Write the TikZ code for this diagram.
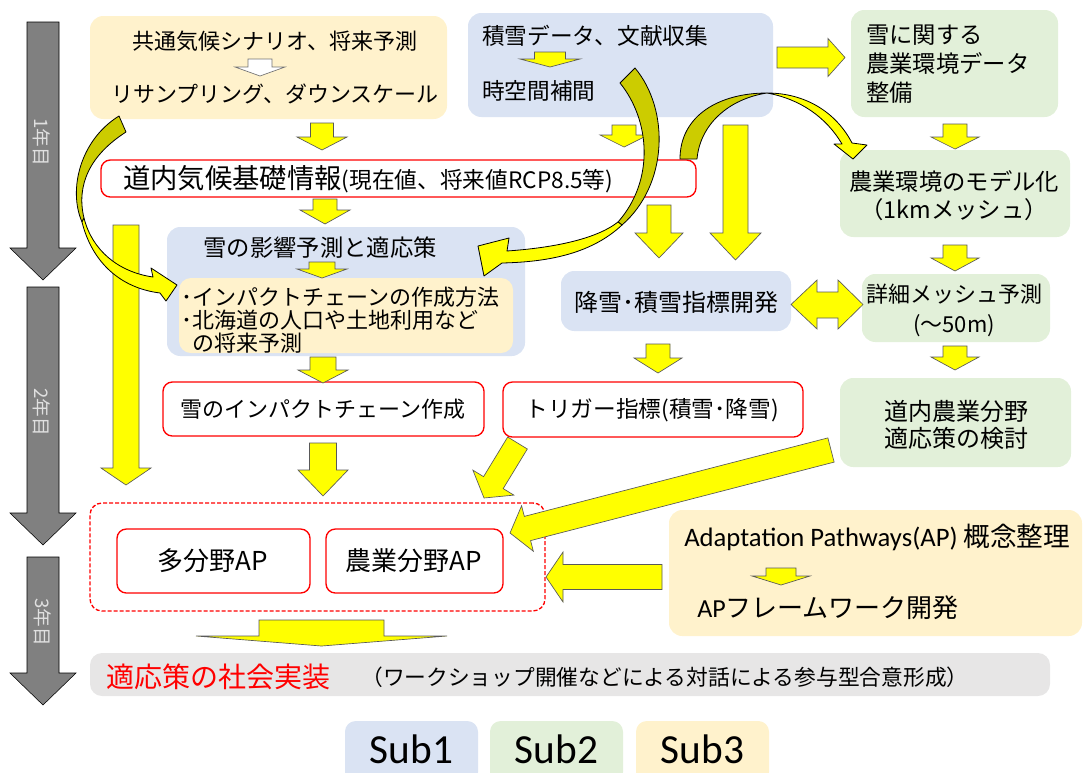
\documentclass[tikz,border=0pt]{standalone}
\usepackage{fontspec}
\setmainfont{Noto Sans CJK JP}
\newfontfamily\calfont{Carlito}
\usetikzlibrary{calc}
\definecolor{subA}{HTML}{DAE3F3}
\definecolor{subB}{HTML}{E2F0D9}
\definecolor{subC}{HTML}{FFF2CC}
\definecolor{barg}{HTML}{E7E6E6}
\definecolor{tlg}{HTML}{808080}
\definecolor{olv}{HTML}{CCCC00}
\definecolor{ylw}{HTML}{FFFF00}
\definecolor{redb}{HTML}{FF0000}
\newcommand\fz[2]{\fontsize{#1pt}{#2pt}\selectfont}
% down block arrow: [style]{cx}{ytop}{ytip}{shaft}{head}{yhead}
\newcommand\dnarrow[7][yarrow]{\draw[#1] ({#2-#5/2},#3) -- ({#2+#5/2},#3) -- ({#2+#5/2},#7) -- ({#2+#6/2},#7) -- (#2,#4) -- ({#2-#6/2},#7) -- ({#2-#5/2},#7) -- cycle;}
% general block arrow: [style]{x1}{y1}{x2}{y2}{shaft}{head}{headlen}
\newcommand\blk[8][yarrow]{%
  \pgfmathsetmacro\bkang{atan2(-((#5)-(#3)),(#4)-(#2))}%
  \pgfmathsetmacro\bklen{veclen((#4)-(#2),(#5)-(#3))}%
  \begin{scope}[shift={(#2,#3)},rotate=\bkang]
    \draw[#1] (0,{-#6/2}) -- ({\bklen-#8},{-#6/2}) -- ({\bklen-#8},{-#7/2}) -- (\bklen,0) -- ({\bklen-#8},{#7/2}) -- ({\bklen-#8},{#6/2}) -- (0,{#6/2}) -- cycle;
  \end{scope}}
\begin{document}
\begin{tikzpicture}[x=0.75pt,y=-0.75pt,
  sz/.style 2 args={minimum width={#1*0.75pt},minimum height={#2*0.75pt}},
  boxA/.style={fill=subA,rounded corners=10pt,inner sep=0pt},
  boxB/.style={fill=subB,rounded corners=10pt,inner sep=0pt},
  boxC/.style={fill=subC,rounded corners=10pt,inner sep=0pt},
  redbox/.style={draw=redb,line width=1pt,fill=white,rounded corners=7pt,inner sep=0pt},
  yarrow/.style={fill=ylw,draw=black!65,line width=0.5pt},
  warrow/.style={fill=white,draw=black!55,line width=0.5pt},
  garrow/.style={fill=tlg},
  olvarrow/.style={fill=olv,draw=black,line width=0.6pt,line join=round},
  ylwarrow/.style={fill=ylw,draw=black,line width=0.6pt,line join=round},
  txt/.style={inner sep=0pt,font=\fz{16.5}{20}},
  tl/.style={inner sep=0pt,text=white!88!black,rotate=-90,font=\fz{14}{16}},
  lgtxt/.style={inner sep=0pt,font=\calfont\fz{31}{33}},
]
\useasboundingbox (0,0) rectangle (1087,772);

% timeline
\dnarrow[garrow]{43}{22}{280}{32}{66}{248}
\dnarrow[garrow]{43}{287}{545}{32}{66}{513}
\dnarrow[garrow]{43}{557}{705}{32}{66}{673}
\node[tl] (yr1) at (42,142) {1年目};
\node[tl] (yr2) at (42,412) {2年目};
\node[tl] (yr3) at (43,622) {3年目};

% boxes
\node[boxC,sz={357}{103}] (s3top) at (268.5,67.5) {};
\node[boxA,sz={305}{104}] (s1top) at (620.5,65) {};
\node[boxB,sz={207}{107}] (s2top) at (954.5,63.5) {};
\node[boxB,sz={230}{87}] (s2model) at (955,193.5) {};
\node[redbox,sz={595}{37}] (clim) at (398.5,178.5) {};
\node[boxA,sz={358}{129}] (impact) at (346,291.5) {};
\node[boxC,sz={334}{75},rounded corners=9pt] (method) at (346,315.5) {};
\node[boxA,sz={230}{60}] (snowidx) at (676,301) {};
\node[boxB,sz={188}{68}] (mesh) at (956,308) {};
\node[redbox,sz={321}{54}] (chain) at (323.5,409) {};
\node[redbox,sz={300}{55}] (trig) at (653,409.5) {};
\node[boxB,sz={231}{89}] (agri) at (955.5,422.5) {};
\node[draw=redb,dash pattern=on 3pt off 1.5pt,line width=1pt,rounded corners=9pt,sz={455}{108},inner sep=0pt] (apgroup) at (317.5,557) {};
\node[redbox,sz={193}{64}] (multi) at (213.5,561) {};
\node[redbox,sz={177}{64}] (agrap) at (414.5,561) {};
\node[boxC,sz={413}{126}] (apbox) at (875.5,573) {};
\node[fill=barg,rounded corners=9pt,inner sep=0pt,sz={960}{43}] (bar) at (570,674.5) {};

% legend boxes (cut by the lower edge)
\begin{scope}
\clip (0,0) rectangle (1087,772);
\node[boxA,rounded corners=8pt,sz={133}{62}] (lg1) at (411.5,752) {};
\node[boxB,rounded corners=8pt,sz={133}{62}] (lg2) at (556.5,752) {};
\node[boxC,rounded corners=8pt,sz={133}{62}] (lg3) at (702.5,752) {};
\end{scope}
\node[lgtxt] (lt1) at (411.5,749) {Sub1};
\node[lgtxt] (lt2) at (556.5,749) {Sub2};
\node[lgtxt] (lt3) at (702.5,749) {Sub3};

% texts
\node[txt] (t1) at (275,41) {共通気候シナリオ、将来予測};
\node[txt] (t2) at (275,94) {リサンプリング、ダウンスケール};
\dnarrow[warrow]{260}{59}{76}{24}{50}{67}
\node[txt,anchor=west,font=\fz{17}{20}] (t3) at (482,36) {積雪データ、文献収集};
\dnarrow{550}{52}{67}{31}{60}{59}
\node[txt,anchor=west,font=\fz{17}{20}] (t4) at (482,91) {時空間補間};
\node[txt,anchor=west,align=left,font=\fz{17.5}{21.5}] (t5) at (866,64) {雪に関する\\農業環境データ\\整備};
\node[txt,align=center,font=\fz{17.5}{21}] (t6) at (954,196) {農業環境のモデル化\\（1kmメッシュ）};
\node[txt,anchor=west] (t7) at (123,179) {{\fz{20.5}{22}道内気候基礎情報}{\fz{17}{20}(現在値、将来値RCP8.5等)}};
\node[txt,font=\fz{17.5}{20}] (t8) at (320,248) {雪の影響予測と適応策};
\node[txt,anchor=west,align=left,font=\fz{16.5}{17}] (t9) at (181,320) {･インパクトチェーンの作成方法\\･北海道の人口や土地利用など\\\hspace*{0.5em}の将来予測};
\node[txt] (t10) at (323,409) {雪のインパクトチェーン作成};
\node[txt,font=\fz{17}{20}] (t11) at (652,410) {トリガー指標(積雪･降雪)};
\node[txt,font=\fz{18}{20}] (t12) at (676,302) {降雪･積雪指標開発};
\node[txt,align=center,font=\fz{16.5}{22.5}] (t13) at (954,310) {詳細メッシュ予測\\(〜50m)};
\node[txt,align=center,font=\fz{18}{20}] (t14) at (956,425) {道内農業分野\\適応策の検討};
\node[txt,font=\fz{19.5}{22}] (t15) at (213,561) {多分野AP};
\node[txt,font=\fz{19.5}{22}] (t16) at (414,561) {農業分野AP};
\node[txt,anchor=west,font=\fz{20}{22}] (t17) at (684,537) {{\calfont Adaptation Pathways(AP)} 概念整理};
\dnarrow{781}{568}{585}{30}{58}{576}
\node[txt,anchor=west,font=\fz{19.5}{22}] (t18) at (697,608) {{\calfont AP}フレームワーク開発};
\node[txt,anchor=west,font=\fz{21}{24},text=redb] (t19) at (106,677) {適応策の社会実装};
\node[txt,anchor=west,font=\fz{16.3}{20}] (t20) at (361,677) {（ワークショップ開催などによる対話による参与型合意形成）};

% straight block arrows
\dnarrow{322}{123}{150}{23}{50}{137}
\dnarrow{624}{125}{147}{24}{48}{135}
\dnarrow{325}{199}{224}{24}{50}{210}
\dnarrow{322}{262}{278}{26}{50}{269}
\dnarrow{323}{357}{383}{26}{50}{370}
\dnarrow{323}{443}{496}{27}{50}{470}
\dnarrow{658}{344}{373}{24}{48}{358}
\dnarrow{955}{124}{149}{24}{48}{137}
\dnarrow{955}{245}{271}{24}{48}{258}
\dnarrow{955}{346}{370}{24}{48}{357}
\dnarrow{126}{225}{485}{26}{50}{468}
\dnarrow{659}{205}{258}{24}{48}{233}
\dnarrow{735.5}{125}{260}{25}{51}{233}
\dnarrow{321.5}{620}{646}{125}{251}{636}
\blk{777}{57.5}{845}{57.5}{21}{38}{17}
\draw[yarrow] (791,304.5) -- (817,280) -- (817,292) -- (838,292) -- (838,280) -- (863,304.5) -- (838,329) -- (838,318) -- (817,318) -- (817,329) -- cycle;
\blk{517.5}{443}{484}{498}{23}{48}{18}
\blk{831}{450}{510}{533}{25}{47}{18}
\blk{662}{577}{546}{577}{25}{50}{17}

% curved arrows
\draw[olvarrow] (119,116) .. controls (80,140) and (68,190) .. (82,222) -- (84,218) .. controls (76,185) and (90,155) .. (126,132) -- cycle;
\draw[ylwarrow] (82,222) .. controls (92,262) and (120,288) .. (160,293) -- (166,301) -- (177,285) -- (151,268) -- (153,277) .. controls (118,272) and (92,250) .. (84,218) -- cycle;

\draw[olvarrow] (635,68) .. controls (670,110) and (668,185) .. (622,225) -- (618,222) .. controls (655,180) and (650,120) .. (620,83) -- cycle;
\draw[ylwarrow] (622,225) .. controls (590,255) and (545,262) .. (502,263) -- (484,276) -- (478,246) -- (509,238) -- (507,251) .. controls (550,248) and (595,240) .. (618,222) -- cycle;

\draw[olvarrow] (680,159) .. controls (680,115) and (720,93) .. (767,93) .. controls (728,99) and (700,125) .. (697,159) -- cycle;
\draw[ylwarrow] (767,93) .. controls (805,93) and (836,112) .. (852,143) -- (867,145) -- (853,159) -- (834,144) -- (842,144) .. controls (826,117) and (800,99) .. (767,93) -- cycle;
\end{tikzpicture}
\end{document}
